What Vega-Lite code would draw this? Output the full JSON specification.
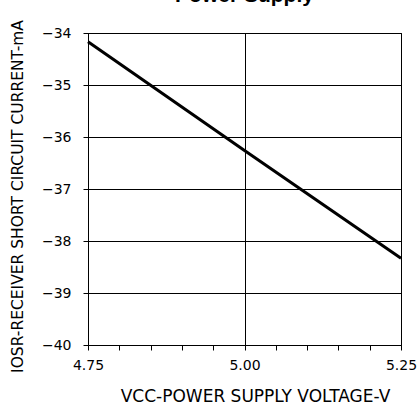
{
  "$schema": "https://vega.github.io/schema/vega-lite/v6.json",
  "autosize": {"type": "none"},
  "padding": {"left": 88, "top": 33, "right": 19, "bottom": 62},
  "width": 313,
  "height": 312,
  "background": "white",
  "title": {
    "text": "Power Supply",
    "font": "Liberation Sans",
    "fontSize": 21,
    "fontWeight": "bold",
    "color": "black",
    "anchor": "middle",
    "baseline": "alphabetic",
    "offset": -3
  },
  "config": {
    "view": {"stroke": "black", "strokeWidth": 1},
    "axis": {
      "domainColor": "black",
      "tickColor": "black",
      "gridColor": "black",
      "labelColor": "black",
      "titleColor": "black",
      "labelFont": "DejaVu Sans",
      "titleFont": "DejaVu Sans",
      "labelFontSize": 14,
      "titleFontSize": 15,
      "titleFontWeight": "normal",
      "tickSize": 5,
      "labelOverlap": false,
      "labelFlush": false,
      "labelBound": false
    }
  },
  "data": {
    "values": [
      {"v": 4.75, "i": -34.17},
      {"v": 5.0, "i": -36.26},
      {"v": 5.25, "i": -38.33}
    ]
  },
  "mark": {"type": "line", "color": "black", "strokeWidth": 3},
  "encoding": {
    "x": {
      "field": "v",
      "type": "quantitative",
      "scale": {"domain": [4.75, 5.25], "nice": false, "zero": false},
      "axis": {
        "values": [4.75, 4.8, 4.85, 4.9, 4.95, 5.0, 5.05, 5.1, 5.15, 5.2, 5.25],
        "format": ".2f",
        "labelExpr": "abs(datum.value*4 - round(datum.value*4)) < 0.001 ? datum.label : ''",
        "grid": true,
        "gridOpacity": {"condition": {"test": "abs(datum.value*4 - round(datum.value*4)) < 0.001", "value": 1}, "value": 0},
        "labelPadding": 8,
        "title": "VCC-POWER SUPPLY VOLTAGE-V",
        "titleFontSize": 17,
        "titlePadding": 16,
        "titleX": 167
      }
    },
    "y": {
      "field": "i",
      "type": "quantitative",
      "scale": {"domain": [-40, -34], "nice": false, "zero": false},
      "axis": {
        "values": [-40, -39.5, -39, -38.5, -38, -37.5, -37, -36.5, -36, -35.5, -35, -34.5, -34],
        "format": "d",
        "labelExpr": "datum.value == round(datum.value) ? datum.label : ''",
        "grid": true,
        "gridOpacity": {"condition": {"test": "datum.value == round(datum.value)", "value": 1}, "value": 0},
        "labelPadding": 12,
        "title": "IOSR-RECEIVER SHORT CIRCUIT CURRENT-mA",
        "titleFontSize": 15.5,
        "titlePadding": 16,
        "titleY": 163
      }
    }
  }
}
